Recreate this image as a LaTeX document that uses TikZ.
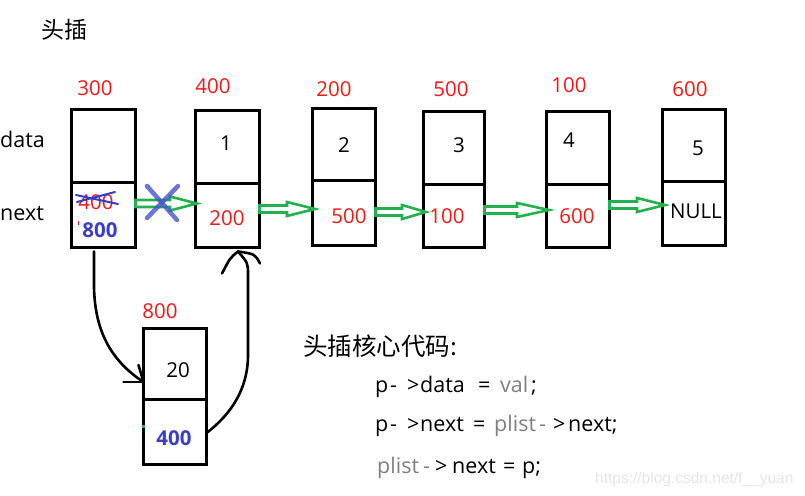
\documentclass[tikz,border=0pt]{standalone}
\usepackage{fontspec}
\setmainfont{Open Sans}
\newfontfamily\cjk{Noto Sans CJK SC}
\newfontfamily\wmfont{Liberation Sans}
\usetikzlibrary{fit,calc}
\definecolor{numred}{RGB}{240,24,24}
\definecolor{numblue}{RGB}{58,62,200}
\definecolor{arrgreen}{RGB}{34,177,76}
\definecolor{xblue}{RGB}{72,82,205}
\definecolor{strikeblue}{RGB}{50,60,205}
\definecolor{codegrey}{RGB}{128,128,128}
\newcommand\tok[2]{\makebox[#1pt][l]{#2}}
\newcommand\gr[1]{\textcolor{codegrey}{#1}}
\newcommand\garrow[5]{% from node, to node, y, head length, tip overshoot
  \draw[garr] ($(#1.east |- 0,#3)+(0,-3.5)$)
    -- ($(#2.west |- 0,#3)+(#5-#4,-3.5)$)
    -- ($(#2.west |- 0,#3)+(#5-#4,-7)$)
    -- ($(#2.west |- 0,#3)+(#5,0)$)
    -- ($(#2.west |- 0,#3)+(#5-#4,7)$)
    -- ($(#2.west |- 0,#3)+(#5-#4,3.5)$)
    -- ($(#1.east |- 0,#3)+(0,3.5)$) -- cycle;}
\begin{document}
\begin{tikzpicture}[x=1pt,y=-1pt,
  cell/.style={draw, line width=3pt, inner sep=0pt, outer sep=0pt},
  lbl/.style={font=\fontsize{20.5}{25}\selectfont, inner sep=0pt, anchor=base},
  addr/.style={lbl, text=numred},
  val/.style={lbl, text=black},
  ptr/.style={lbl, text=numred},
  newptr/.style={lbl, text=numblue, font=\fontsize{20.5}{25}\selectfont\bfseries},
  code/.style={font=\fontsize{21.5}{25}\selectfont, inner sep=0pt, anchor=base west},
  garr/.style={draw=arrgreen, line width=2.6pt, line join=miter},
  hand/.style={draw=black, line width=2.6pt, line cap=round, line join=round},
  xmark/.style={draw=xblue, opacity=0.8, line width=4.5pt, line cap=round},
  strike/.style={draw=strikeblue, line width=2pt, line cap=round}
]
\useasboundingbox (0,0) rectangle (805,495);
% title
\node[font=\cjk\fontsize{23}{27}\selectfont, inner sep=0pt, anchor=base west] (title) at (41,38) {头插};
% row labels
\node[code] (ldata) at (0,147) {data};
\node[code] (lnext) at (0,220) {next};
% boxes
\node[cell, fit={(71.5,109.5) (135.5,182)}] (A-d) {};
\node[cell, fit={(71.5,182) (135.5,247.5)}] (A-n) {};
\node[cell, fit={(195.5,110.5) (259.5,183)}] (B-d) {};
\node[cell, fit={(195.5,183) (259.5,247.5)}] (B-n) {};
\node[cell, fit={(312.5,108.5) (375.5,180)}] (C-d) {};
\node[cell, fit={(312.5,180) (375.5,245.5)}] (C-n) {};
\node[cell, fit={(423.5,111.5) (484.5,184)}] (D-d) {};
\node[cell, fit={(423.5,184) (484.5,247.5)}] (D-n) {};
\node[cell, fit={(546.5,111.5) (609.5,184)}] (E-d) {};
\node[cell, fit={(546.5,184) (609.5,247.5)}] (E-n) {};
\node[cell, fit={(662.5,109.5) (725.5,181)}] (F-d) {};
\node[cell, fit={(662.5,181) (725.5,245.5)}] (F-n) {};
\node[cell, fit={(143.5,328.5) (206.5,399)}] (G-d) {};
\node[cell, fit={(143.5,399) (206.5,464.5)}] (G-n) {};
% addresses
\node[addr] (aA) at (95,95) {300};
\node[addr] (aB) at (213,93) {400};
\node[addr] (aC) at (334,96) {200};
\node[addr] (aD) at (451,96) {500};
\node[addr] (aE) at (569,92) {100};
\node[addr] (aF) at (690,96) {600};
\node[addr] (aG) at (160,318) {800};
% data values
\node[val] (vB) at (226,150) {1};
\node[val] (vC) at (344,152) {2};
\node[val] (vD) at (459,152) {3};
\node[val] (vE) at (569,147) {4};
\node[val] (vF) at (698,155) {5};
\node[val] (vG) at (178,377) {20};
% next values
\node[ptr] (pAold) at (96,209) {400};
\node[newptr] (pAnew) at (100,237) {800};
\node[ptr] (pB) at (227,225) {200};
\node[ptr] (pC) at (349,223) {500};
\node[ptr] (pD) at (447,223) {100};
\node[ptr] (pE) at (577,223) {600};
\node[val] (pF) at (696,218) {NULL};
\node[newptr] (pG) at (174,445) {400};
% strike over old pointer
\draw[strike] (76,195) -- (118,204);
\draw[strike] (77,202) -- (115,192);
% small marks
\draw[numred, line width=1pt] (78,221) -- (78,225);
\fill[arrgreen] (141.5,424.5) rectangle (144.5,427.5);
% green arrows
\garrow{A-n}{B-n}{203.5}{27}{1.5}
\garrow{B-n}{C-n}{209}{28}{2.5}
\garrow{C-n}{D-n}{212}{24}{2.5}
\garrow{D-n}{E-n}{210}{32}{2.5}
\garrow{E-n}{F-n}{205}{28}{2.5}
% cross over the old link
\draw[xmark] (147,186) -- (177,220);
\draw[xmark] (178,186) -- (147,218);
% hand-drawn arrows
\coordinate (t1) at (G-d.west |- 0,382);
\draw[hand] ([xshift=-9.5pt,yshift=-4pt]A-n.south) -- ++(0,36) .. controls (95,330) and (110,360) .. (t1);
\draw[hand] (t1) -- ++(-20,0);
\draw[hand] (t1) -- ++(-5,-17);
\coordinate (t2) at ([xshift=10.5pt,yshift=-4pt]B-n.south);
\draw[hand] (G-n.east |- 0,433) .. controls (230,415) and (248,390) .. (248,355) -- (248,275) .. controls (248,263) .. (t2);
\draw[hand] (t2) .. controls (230,258) .. ++(-16,22);
\draw[hand] (t2) .. controls (255,254) .. ++(22,12);
% code
\node[font=\cjk\fontsize{24.5}{28}\selectfont, inner sep=0pt, anchor=base west] (ctitle) at (303,355) {头插核心代码:};
\node[code] (c1) at (375,392) {\tok{15}{p}\tok{17}{-}\tok{13}{>}\tok{58}{data}\tok{22}{=}\tok{31}{\gr{val}};};
\node[code] (c2) at (375,431) {\tok{15}{p}\tok{17}{-}\tok{13}{>}\tok{53}{next}\tok{21}{=}\tok{45}{\gr{plist}}\tok{14}{\gr{-}}\tok{15}{>}next;};
\node[code] (c3) at (377,473) {\tok{46}{\gr{plist}}\tok{12}{\gr{-}}\tok{17}{>}\tok{51}{next}\tok{19}{=}p;};
% watermark
\node[font=\wmfont\fontsize{15.5}{18}\selectfont, text=black!10, inner sep=0pt, anchor=base west] (wm) at (595,483) {https://blog.csdn.net/f\_\_yuan};
\end{tikzpicture}
\end{document}
